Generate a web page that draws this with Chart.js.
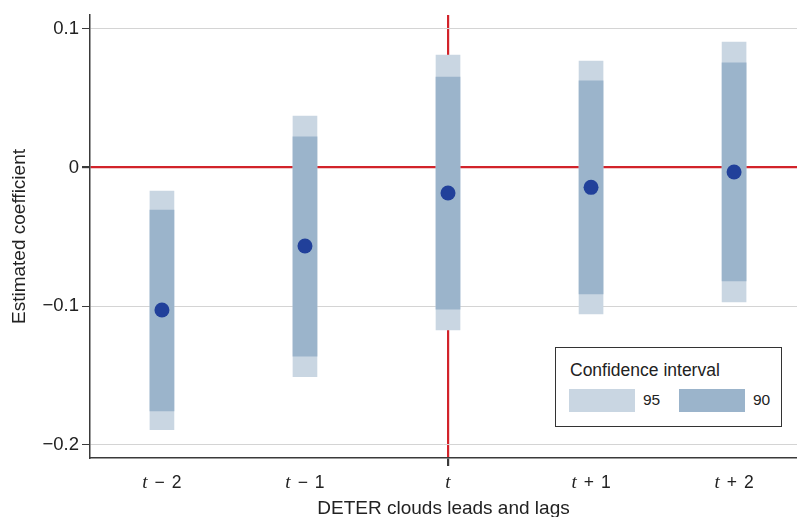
<!DOCTYPE html>
<html>
<head>
<meta charset="utf-8">
<script src="https://cdn.jsdelivr.net/npm/chart.js@4.4.1/dist/chart.umd.min.js"></script>
<style>
  html, body { margin: 0; padding: 0; background: #fff; overflow: hidden; }
  #wrap { position: relative; width: 797px; height: 517px; }
  #legend {
    position: absolute; left: 555px; top: 347px; width: 225px; height: 78px;
    border: 1.5px solid #333; background: #fff;
    font-family: "Liberation Sans", Arial, sans-serif; color: #222;
  }
  #legend .title { position: absolute; left: 14px; top: 12px; font-size: 17.5px; }
  #legend .sw { position: absolute; top: 41px; width: 66px; height: 23px; }
  #legend .lab { position: absolute; top: 42px; font-size: 15.5px; line-height: 20px; }
</style>
</head>
<body>
<div id="wrap">
  <canvas id="c" width="797" height="517"></canvas>
  <div id="legend">
    <div class="title">Confidence interval</div>
    <div class="sw" style="left:13px;background:#c9d6e2"></div>
    <div class="lab" style="left:87px">95</div>
    <div class="sw" style="left:123px;background:#9bb4cb"></div>
    <div class="lab" style="left:197px">90</div>
  </div>
</div>
<script>
// leads and lags of the estimated coefficient
const xLabels = ['t − 2', 't − 1', 't', 't + 1', 't + 2'];
const xTicks = [0, 1, 2, 3, 4];
const coef = [-0.1029, -0.0567, -0.0184, -0.0143, -0.0032];
const ci95Low = [-0.1893, -0.1510, -0.1173, -0.1056, -0.0971];
const ci95High = [-0.0170, 0.0372, 0.0812, 0.0769, 0.0906];
const ci90Low = [-0.1758, -0.1361, -0.1022, -0.0913, -0.0819];
const ci90High = [-0.0307, 0.0222, 0.0653, 0.0625, 0.0755];
const yTicks = [-0.2, -0.1, 0, 0.1];
const yTickLabels = ['−0.2', '−0.1', '0', '0.1'];

const RED = '#d2232a';
const AXIS = '#3a3a3a';
const SANS = '"Liberation Sans", Arial, sans-serif';

// x tick labels: italic serif "t", upright operator and number
const xTickText = {
  id: 'xTickText',
  afterDraw(chart) {
    const { ctx, scales: { x } } = chart;
    ctx.save();
    ctx.fillStyle = '#222';
    ctx.textBaseline = 'alphabetic';
    ctx.textAlign = 'left';
    xLabels.forEach((label, i) => {
      const parts = label.split(' ');
      const fonts = parts.map((p, j) => j === 0 ? 'italic 19px "Liberation Serif", serif' : '17.5px ' + SANS);
      const gap = 7;
      let w = 0;
      const widths = parts.map((p, j) => { ctx.font = fonts[j]; const m = ctx.measureText(p).width; w += m; return m; });
      w += gap * (parts.length - 1);
      let px = x.getPixelForValue(xTicks[i]) - w / 2;
      parts.forEach((p, j) => {
        ctx.font = fonts[j];
        ctx.fillText(p, px, 487.5);
        px += widths[j] + gap;
      });
    });
    ctx.restore();
  },
};

new Chart(document.getElementById('c'), {
  type: 'bar',
  data: {
    datasets: [
      {
        type: 'scatter', label: 'coef', order: 0,
        data: xTicks.map((x, i) => ({ x, y: coef[i] })),
        backgroundColor: '#21409a', borderWidth: 0, pointRadius: 7.5, pointHoverRadius: 7.5,
      },
      {
        label: '90', order: 1, grouped: false, barThickness: 24,
        data: xTicks.map((x, i) => ({ x, y: [ci90Low[i], ci90High[i]] })),
        backgroundColor: '#9bb4cb', borderWidth: 0,
      },
      {
        label: '95', order: 2, grouped: false, barThickness: 24,
        data: xTicks.map((x, i) => ({ x, y: [ci95Low[i], ci95High[i]] })),
        backgroundColor: '#c9d6e2', borderWidth: 0,
      },
    ],
  },
  options: {
    responsive: false, animation: false, devicePixelRatio: 1,
    layout: { autoPadding: false, padding: { top: 15, left: 0, right: 0, bottom: 0 } },
    plugins: { legend: { display: false }, tooltip: { enabled: false } },
    scales: {
      x: {
        type: 'linear', min: -0.503, max: 4.44, offset: false,
        afterBuildTicks: s => { s.ticks = xTicks.map(value => ({ value })); },
        afterFit: s => { s.height = 59; },
        grid: {
          offset: false, tickLength: 8, tickColor: AXIS,
          color: c => c.tick && c.tick.value === 2 ? RED : 'rgba(0,0,0,0)',
          lineWidth: c => c.tick && c.tick.value === 2 ? 2.2 : 0,
        },
        border: { display: true, color: AXIS, width: 1.5 },
        ticks: { display: false },
        title: {
          display: true, text: 'DETER clouds leads and lags', color: '#222',
          font: { family: SANS, size: 19, lineHeight: 1 }, padding: { top: 0, bottom: -1 },
        },
      },
      y: {
        min: -0.2097, max: 0.1101,
        afterBuildTicks: s => { s.ticks = yTicks.map(value => ({ value })); },
        afterFit: s => { s.width = 90; },
        grid: {
          tickLength: 8, tickColor: AXIS,
          color: c => c.tick && c.tick.value === 0 ? RED : '#d4d4d4',
          lineWidth: c => c.tick && c.tick.value === 0 ? 2.2 : 1,
        },
        border: { display: true, color: AXIS, width: 1.5 },
        ticks: {
          color: '#222', padding: 3, font: { family: SANS, size: 18.5 },
          callback: v => yTickLabels[yTicks.indexOf(v)],
        },
        title: {
          display: true, text: 'Estimated coefficient', color: '#222',
          font: { family: SANS, size: 19, lineHeight: 1 }, padding: { top: 10, bottom: 0 },
        },
      },
    },
  },
  plugins: [xTickText],
});
</script>
</body>
</html>
